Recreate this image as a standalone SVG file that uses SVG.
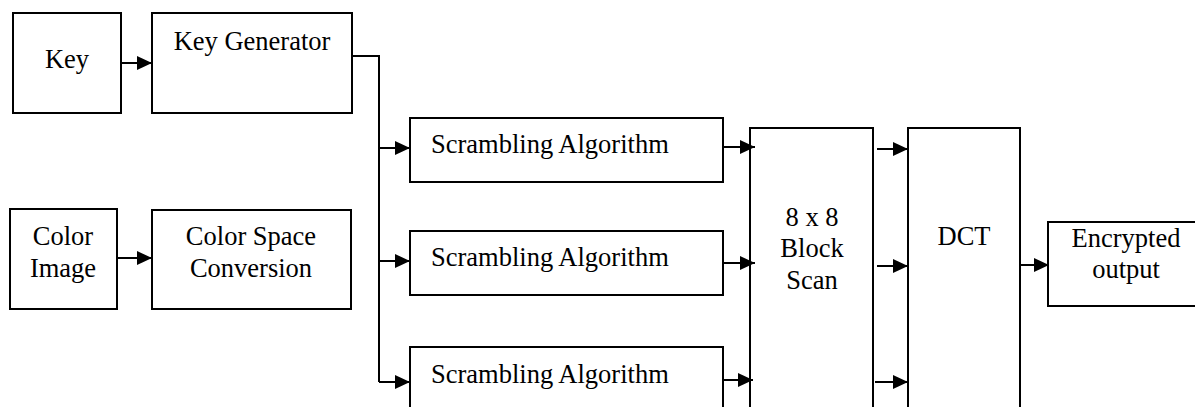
<svg xmlns="http://www.w3.org/2000/svg" width="1195" height="407" viewBox="0 0 1195 407">
  <style>
    .box { fill: #fff; stroke: #000; stroke-width: 2; }
    .lbl { font-family: "Liberation Serif", "Times New Roman", serif; font-size: 26.5px; fill: #000; }
    .mid { text-anchor: middle; }
    .wire { fill: none; stroke: #000; stroke-width: 2; }
    .arrow { fill: none; stroke: #000; stroke-width: 2; marker-end: url(#head); }
  </style>
  <defs>
    <marker id="head" markerUnits="userSpaceOnUse" markerWidth="16" markerHeight="14" refX="15" refY="7" orient="auto">
      <path d="M0,0 L15,7 L0,14 Z" fill="#000"/>
    </marker>
  </defs>
  <rect width="1195" height="407" fill="#fff"/>

  <g id="key">
    <rect class="box" x="13" y="13" width="108" height="100"/>
    <text class="lbl mid" x="67" y="68">Key</text>
  </g>
  <g id="key-generator">
    <rect class="box" x="152" y="13" width="200" height="100"/>
    <text class="lbl mid" x="252" y="50">Key Generator</text>
  </g>
  <g id="color-image">
    <rect class="box" x="10" y="209" width="107" height="100"/>
    <text class="lbl mid" x="63" y="245">Color</text>
    <text class="lbl mid" x="63" y="277">Image</text>
  </g>
  <g id="color-space-conversion">
    <rect class="box" x="152" y="210" width="199" height="99"/>
    <text class="lbl mid" x="251" y="245">Color Space</text>
    <text class="lbl mid" x="251" y="277">Conversion</text>
  </g>
  <g id="scrambling-1">
    <rect class="box" x="410" y="118" width="313" height="64"/>
    <text class="lbl" x="431" y="153">Scrambling Algorithm</text>
  </g>
  <g id="scrambling-2">
    <rect class="box" x="410" y="231" width="313" height="64"/>
    <text class="lbl" x="431" y="266">Scrambling Algorithm</text>
  </g>
  <g id="scrambling-3">
    <rect class="box" x="410" y="347" width="313" height="80"/>
    <text class="lbl" x="431" y="383">Scrambling Algorithm</text>
  </g>
  <g id="block-scan">
    <rect class="box" x="750" y="128" width="123" height="300"/>
    <text class="lbl mid" x="812" y="226">8 x 8</text>
    <text class="lbl mid" x="812" y="257">Block</text>
    <text class="lbl mid" x="812" y="289">Scan</text>
  </g>
  <g id="dct">
    <rect class="box" x="908" y="128" width="112" height="300"/>
    <text class="lbl mid" x="964" y="245">DCT</text>
  </g>
  <g id="encrypted-output">
    <rect class="box" x="1048" y="222" width="160" height="84"/>
    <text class="lbl mid" x="1126" y="247">Encrypted</text>
    <text class="lbl mid" x="1126" y="278">output</text>
  </g>

  <g id="connectors">
    <line class="arrow" x1="121" y1="63" x2="152" y2="63"/>
    <line class="arrow" x1="117" y1="258" x2="152" y2="258"/>
    <!-- key generator fan-out bus -->
    <polyline class="wire" points="351,56 379,56 379,382"/>
    <line class="arrow" x1="379" y1="148" x2="410" y2="148"/>
    <line class="arrow" x1="379" y1="261" x2="410" y2="261"/>
    <line class="arrow" x1="379" y1="382" x2="410" y2="382"/>
    <!-- scrambling outputs into block scan -->
    <line class="arrow" x1="723" y1="147" x2="755" y2="147"/>
    <line class="arrow" x1="723" y1="263" x2="755" y2="263"/>
    <line class="arrow" x1="722" y1="380" x2="753" y2="380"/>
    <!-- block scan into DCT -->
    <line class="arrow" x1="877" y1="149" x2="908" y2="149"/>
    <line class="arrow" x1="877" y1="266" x2="908" y2="266"/>
    <line class="arrow" x1="875" y1="382" x2="908" y2="382"/>
    <line class="arrow" x1="1020" y1="265" x2="1049" y2="265"/>
  </g>
</svg>
